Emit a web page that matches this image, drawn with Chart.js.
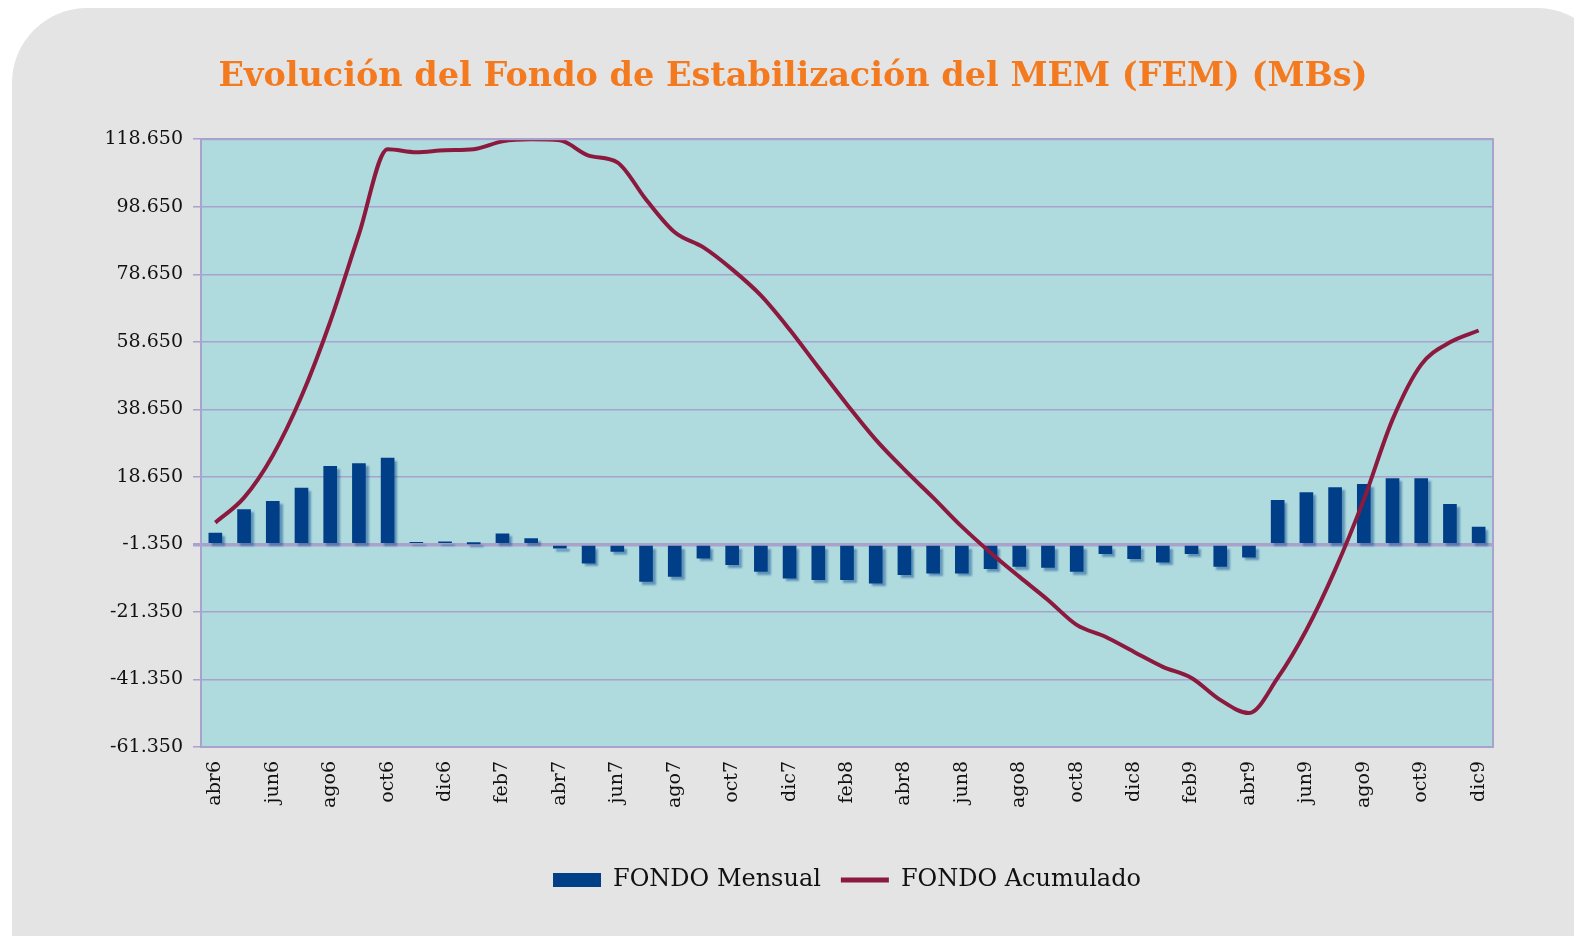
<!DOCTYPE html>
<html>
<head>
<meta charset="utf-8">
<script src="https://cdn.jsdelivr.net/npm/chart.js@4"></script>
<style>
  html, body { margin: 0; padding: 0; background: #ffffff; overflow: hidden; }
  #fondo { position: absolute; left: 12px; top: 8px; width: 1600px; height: 1000px; background: #e4e4e4; border-radius: 75px; }
  #wrap { position: absolute; left: 0; top: 0; width: 1574px; height: 936px; }
</style>
</head>
<body>
<div id="fondo"></div>
<div id="wrap"><canvas id="fem" width="1574" height="936"></canvas></div>
<script>
// meses abr-2006 .. dic-2009
const meses = ['abr6','may6','jun6','jul6','ago6','sep6','oct6','nov6','dic6',
  'ene7','feb7','mar7','abr7','may7','jun7','jul7','ago7','sep7','oct7','nov7','dic7',
  'ene8','feb8','mar8','abr8','may8','jun8','jul8','ago8','sep8','oct8','nov8','dic8',
  'ene9','feb9','mar9','abr9','may9','jun9','jul9','ago9','sep9','oct9','nov9','dic9']

// FONDO Mensual (barras, desde la linea -1.350)
const fondoMensual = [2000, 8950, 11400, 15350, 21780, 22580, 24250, -700, -600,
  -1200, 1800, 350, -2500, -6900, -3400, -12350, -10850, -5400, -7370, -9350, -11350,
  -11800, -11800, -12800, -10350, -9850, -9850, -8550, -7870, -8200, -9350, -4100, -5600,
  -6600, -4100, -7870, -5100, 11700, 13980, 15450, 16450, 18130, 18130, 10500, 3780]

// FONDO Acumulado (linea)
const fondoAcumulado = [5100, 12500, 25000, 42500, 64600, 90500, 115700, 114800, 115400,
  115700, 118000, 118600, 118300, 113800, 111800, 100800, 91100, 86600, 80100, 72400, 62300,
  51100, 40100, 29700, 20800, 12500, 3900, -3800, -10900, -17800, -25200, -28700, -33200,
  -37600, -40900, -47400, -51300, -40900, -26700, -8900, 11900, 35600, 51900, 58500, 62000]

// ticks del eje Y
const yTicks = [-61350, -41350, -21350, -1350, 18650, 38650, 58650, 78650, 98650, 118650]

const titulo = 'Evolución del Fondo de Estabilización del MEM (FEM) (MBs)'

const azul = '#003f87'
const granate = '#8c1a3e'
const lila = '#a8a2cc'

function formato(v) {
  //puntos como separador de miles
  const s = Math.abs(v).toString().replace(/\B(?=(\d{3})+(?!\d))/g, '.')
  return (v < 0 ? '-' : '') + s
}

// fondo del area de trazado + borde
const areaFondo = {
  id: 'areaFondo',
  beforeDraw(chart) {
    const a = chart.chartArea
    const ctx = chart.ctx
    ctx.save()
    ctx.fillStyle = '#afdbdf'
    ctx.fillRect(a.left, a.top, a.right - a.left, a.bottom - a.top)
    ctx.restore()
  },
  afterDraw(chart) {
    const a = chart.chartArea
    const ctx = chart.ctx
    ctx.save()
    ctx.strokeStyle = lila
    ctx.lineWidth = 2
    ctx.strokeRect(a.left, a.top, a.right - a.left, a.bottom - a.top)
    ctx.restore()
  },
  beforeDatasetDraw(chart, args) {
    if (args.index === 1) {
      chart.ctx.save()
      chart.ctx.shadowColor = 'rgba(0,63,135,0.45)'
      chart.ctx.shadowOffsetX = 3
      chart.ctx.shadowOffsetY = 3
      chart.ctx.shadowBlur = 2
    }
  },
  afterDatasetDraw(chart, args) {
    if (args.index === 1) chart.ctx.restore()
  }
}

new Chart(document.getElementById('fem'), {
  type: 'bar',
  data: {
    labels: meses,
    datasets: [{
      type: 'line',
      label: 'FONDO Acumulado',
      data: fondoAcumulado,
      borderColor: granate,
      backgroundColor: granate,
      borderWidth: 4,
      pointRadius: 0,
      cubicInterpolationMode: 'monotone',
      order: 0
    }, {
      type: 'bar',
      label: 'FONDO Mensual',
      data: fondoMensual,
      base: -1350,
      backgroundColor: azul,
      barThickness: 13,
      order: 1
    }]
  },
  options: {
    responsive: false,
    animation: false,
    layout: { padding: { left: 12, right: 0, top: 0, bottom: 34 } },
    plugins: {
      title: {
        display: true,
        text: titulo,
        color: '#f47a20',
        font: { family: 'DejaVu Serif', size: 33.5, weight: 'bold' },
        padding: { top: 57, bottom: 42 }
      },
      legend: {
        position: 'bottom',
        fullSize: false,
        reverse: true,
        labels: {
          color: '#111',
          font: { family: 'DejaVu Serif', size: 24 },
          boxWidth: 48,
          boxHeight: 14,
          usePointStyle: true,
          pointStyleWidth: 48,
          padding: 20,
          generateLabels(chart) {
            return chart.data.datasets.map((ds, i) => ({
              text: ds.label,
              datasetIndex: i,
              fillStyle: ds.type === 'bar' ? azul : granate,
              strokeStyle: ds.type === 'bar' ? azul : granate,
              lineWidth: ds.type === 'bar' ? 0 : 5,
              pointStyle: ds.type === 'bar' ? 'rect' : 'line',
              fontColor: '#111'
            }))
          }
        }
      },
      tooltip: { enabled: false }
    },
    scales: {
      x: {
        grid: { display: false },
        border: { color: lila, width: 2 },
        ticks: {
          autoSkip: false,
          minRotation: 90,
          maxRotation: 90,
          color: '#111',
          padding: 6,
          font: { family: 'DejaVu Serif', size: 19 },
          callback: (v, i) => (i % 2 === 0 ? meses[i] : '')
        },
        afterFit(scale) { scale.height = 101 }
      },
      y: {
        min: -61350,
        max: 118650,
        afterBuildTicks(scale) { scale.ticks = yTicks.map(v => ({ value: v })) },
        grid: {
          color: lila,
          lineWidth: ctx => (ctx.tick && ctx.tick.value === -1350 ? 3.5 : 1.5),
          tickLength: 8
        },
        border: { color: lila, width: 2 },
        ticks: {
          color: '#111',
          padding: 10,
          font: { family: 'DejaVu Serif', size: 19 },
          callback: v => formato(v)
        },
        afterFit(scale) { scale.width = 189 }
      },
      // margen derecho vacio
      margen: {
        type: 'linear',
        position: 'right',
        display: true,
        grid: { display: false },
        border: { display: false },
        ticks: { display: false },
        afterFit(scale) { scale.width = 81 }
      }
    }
  },
  plugins: [areaFondo]
})
</script>
</body>
</html>
